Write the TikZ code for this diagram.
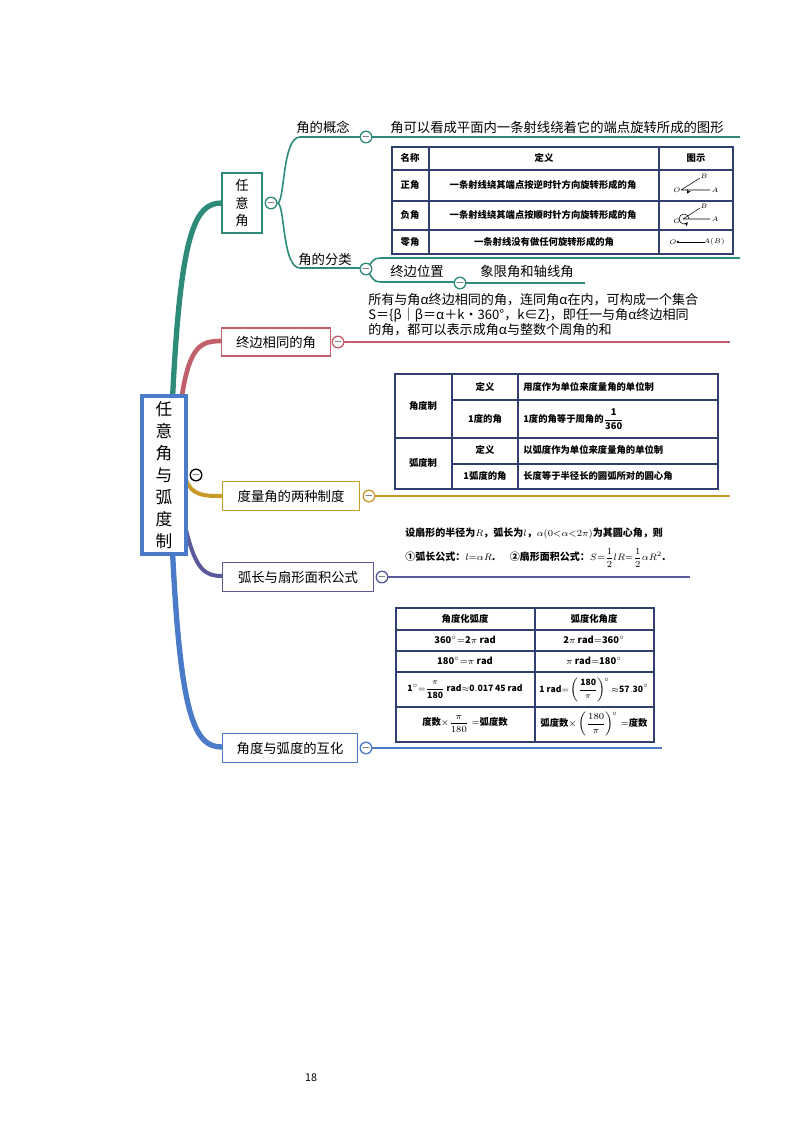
\documentclass[tikz,border=0pt]{standalone}
\usepackage{fontspec}
\setmainfont{Noto Sans CJK SC}
\begin{document}
\begin{tikzpicture}[x=0.75pt,y=-0.75pt,
  topic/.style={draw,line width=1.2pt,fill=white,inner sep=0pt,font=\fontsize{10}{12}\selectfont},
  coll/.style={circle,draw,line width=1pt,fill=white,minimum size=8pt,inner sep=0pt,font=\fontsize{8}{8}\selectfont},
  lab/.style={inner sep=0pt,font=\fontsize{10}{12}\selectfont},
  tc/.style={inner sep=0pt,font=\fontsize{7}{8}\selectfont\bfseries},
  tb/.style={line width=1pt}]
\useasboundingbox (0,0) rectangle (800,1132);
\definecolor{teal}{HTML}{2E8B7A}\definecolor{rd}{HTML}{C0606A}
\definecolor{gd}{HTML}{C89A2A}\definecolor{pu}{HTML}{5A5A9A}
\definecolor{bl}{HTML}{4A7AC8}\definecolor{tbl}{HTML}{2F3F6F}
% root branches
\draw[teal,line width=4pt] (172,410) .. controls (180,230) and (195,203) .. (222,203);
\draw[rd,line width=3.5pt] (180,410) .. controls (188,345) and (200,341) .. (222,341);
\draw[gd,line width=3pt] (186,480) .. controls (192,496) and (205,496) .. (222,496);
\draw[pu,line width=3pt] (186,530) .. controls (196,570) and (205,576) .. (222,576);
\draw[bl,line width=4pt] (172,540) .. controls (180,720) and (195,747) .. (222,747);
% root
\node[draw=bl,line width=3pt,fill=white,minimum width=33pt,text width=14pt,align=center,inner sep=4pt,font=\fontsize{12.5}{16.5}\selectfont,minimum height=101pt] (root) at (164,475) {任\\意\\角\\与\\弧\\度\\制};
\node[coll,draw=black] (rc) at (196,475) {$-$};
% branch 1
\node[topic,draw=teal,minimum width=30pt,minimum height=45pt,align=center,font=\fontsize{10}{13}\selectfont] (b1) at (242,203) {任\\意\\角};
\node[coll,draw=teal] (c1) at (271,203) {$-$};
\draw[teal,line width=1.2pt] (c1) .. controls (285,203) and (282,137) .. (300,137) -- (360,137);
\draw[teal,line width=1.2pt] (c1) .. controls (285,203) and (282,268) .. (300,268) -- (360,268);
\node[lab] (g1) at (323,127) {角的概念};
\node[coll,draw=teal] (c11) at (366,137) {$-$};
\draw[teal,line width=1.2pt] (c11) -- (740,137);
\node[lab,anchor=west] (t11) at (390,127) {角可以看成平面内一条射线绕着它的端点旋转所成的图形};
\node[lab] (g2) at (325,259) {角的分类};
\node[coll,draw=teal] (c12) at (366,269) {$-$};
\draw[teal,line width=1.2pt] (c12) .. controls (375,258) .. (385,258) -- (740,258);
\draw[teal,line width=1.2pt] (c12) .. controls (375,282) .. (385,282) -- (455,282);
\node[lab] (g21) at (417,271) {终边位置};
\node[coll,draw=teal] (c121) at (460,283) {$-$};
\draw[teal,line width=1.2pt] (c121) -- (585,283);
\node[lab] (g22) at (527,271) {象限角和轴线角};
% table 1
\draw[tb,draw=tbl] (392,147) rectangle (733,254);
\foreach \y in {170,201,230} \draw[tb,draw=tbl] (392,\y) -- (733,\y);
\foreach \x in {429,659} \draw[tb,draw=tbl] (\x,147) -- (\x,254);
\node[tc] at (410,158) {名称};\node[tc] at (544,158) {定义};\node[tc] at (696,158) {图示};
\node[tc] at (410,185) {正角};\node[tc] at (543,185) {一条射线绕其端点按逆时针方向旋转形成的角};
\node[tc] at (410,215) {负角};\node[tc] at (543,215) {一条射线绕其端点按顺时针方向旋转形成的角};
\node[tc] at (410,242) {零角};\node[tc] at (544,242) {一条射线没有做任何旋转形成的角};
\begin{scope}[font=\fontsize{5}{5}\selectfont\itshape]
\draw (681,190) -- (710,190) (681,190) -- (700,178);
\draw[->,>=stealth] (688,190) arc (0:32:7);
\node at (677,190) {$O$};\node at (715,190) {$A$};\node at (704,176) {$B$};
\draw (683,219) -- (710,219) (683,219) -- (700,208);
\draw[->,>=stealth] (689,219) arc (0:-320:5);
\node at (677,221) {$O$};\node at (715,219) {$A$};\node at (704,206) {$B$};
\fill (678,242) circle (1pt); \draw (678,242) -- (705,242);
\node at (673,242) {$O$};\node at (714,242) {$A(B)$};
\end{scope}
% branch 2
\node[topic,draw=rd,minimum width=82pt,minimum height=21pt] (b2) at (276,342) {终边相同的角};
\node[coll,draw=rd] (c2) at (338,342) {$-$};
\draw[rd,line width=1.2pt] (c2) -- (730,342);
\node[lab,anchor=north west,align=left,font=\fontsize{9.8}{11.5}\selectfont] (t2) at (368,293) {所有与角α终边相同的角，连同角α在内，可构成一个集合\\S＝\{β｜β＝α＋k·360°，k∈Z\}，即任一与角α终边相同\\的角，都可以表示成角α与整数个周角的和};
% branch 3
\node[topic,draw=gd,minimum width=103pt,minimum height=22pt] (b3) at (291,496) {度量角的两种制度};
\node[coll,draw=gd] (c3) at (369,496) {$-$};
\draw[gd,line width=1.2pt] (c3) -- (730,496);
\draw[tb,draw=tbl] (395,374) rectangle (718,489);
\draw[tb,draw=tbl] (395,438) -- (718,438);
\foreach \y in {400,464} \draw[tb,draw=tbl] (452,\y) -- (718,\y);
\foreach \x in {452,518} \draw[tb,draw=tbl] (\x,374) -- (\x,489);
\node[tc] at (423,406) {角度制};\node[tc] at (423,463) {弧度制};
\node[tc] at (485,387) {定义};\node[tc] at (485,419) {1度的角};
\node[tc] at (485,450) {定义};\node[tc] at (485,476) {1弧度的角};
\node[tc,anchor=west] at (523,387) {用度作为单位来度量角的单位制};
\node[tc,anchor=west] at (523,419) {1度的角等于周角的$\displaystyle\mathbf{\frac{1}{360}}$};
\node[tc,anchor=west] at (523,450) {以弧度作为单位来度量角的单位制};
\node[tc,anchor=west] at (523,476) {长度等于半径长的圆弧所对的圆心角};
% branch 4
\node[topic,draw=pu,minimum width=113pt,minimum height=22pt] (b4) at (298,577) {弧长与扇形面积公式};
\node[coll,draw=pu] (c4) at (382,577) {$-$};
\draw[pu,line width=1.2pt] (c4) -- (690,577);
\node[tc,anchor=west,font=\fontsize{7.5}{9}\selectfont\bfseries] at (405,533) {设扇形的半径为$R$，弧长为$l$，$\alpha(0{<}\alpha{<}2\pi)$为其圆心角，则};
\node[tc,anchor=west,font=\fontsize{7.5}{9}\selectfont\bfseries] at (405,558) {①弧长公式：$l{=}\alpha R$.\quad\ \ ②扇形面积公式：$S{=}\displaystyle\frac{1}{2}lR{=}\frac{1}{2}\alpha R^2$.};
% branch 5
\node[topic,draw=bl,minimum width=101pt,minimum height=22pt] (b5) at (290,748) {角度与弧度的互化};
\node[coll,draw=bl] (c5) at (366,748) {$-$};
\draw[bl,line width=1.2pt] (c5) -- (662,748);
\draw[tb,draw=tbl] (396,608) rectangle (654,742);
\foreach \y in {630,651,672,707} \draw[tb,draw=tbl] (396,\y) -- (654,\y);
\draw[tb,draw=tbl] (535,608) -- (535,742);
\begin{scope}[every node/.style={tc,font=\fontsize{7}{8}\selectfont\bfseries}]
\node at (465,619) {角度化弧度};\node at (594,619) {弧度化角度};
\node at (465,640) {$\mathbf{360^\circ{=}2\pi\ rad}$};\node at (594,640) {$\mathbf{2\pi\ rad{=}360^\circ}$};
\node at (465,661) {$\mathbf{180^\circ{=}\pi\ rad}$};\node at (594,661) {$\mathbf{\pi\ rad{=}180^\circ}$};
\node[font=\fontsize{6.5}{8}\selectfont\bfseries] at (465,690) {$\displaystyle\mathbf{1^\circ{=}\frac{\pi}{180}\ rad{\approx}0.017\,45\ rad}$};
\node[font=\fontsize{6.5}{8}\selectfont\bfseries] at (594,690) {$\displaystyle\mathbf{1\ rad{=}\left(\frac{180}{\pi}\right)^{\!\circ}{\approx}57.30^\circ}$};
\node at (465,724) {度数$\displaystyle\times\frac{\pi}{180}=$弧度数};
\node at (594,724) {弧度数$\displaystyle\times\left(\frac{180}{\pi}\right)^{\!\circ}=$度数};
\end{scope}
\node[inner sep=0pt,font=\fontsize{8}{8}\selectfont] (pg) at (311,1078) {18};
\end{tikzpicture}
\end{document}
